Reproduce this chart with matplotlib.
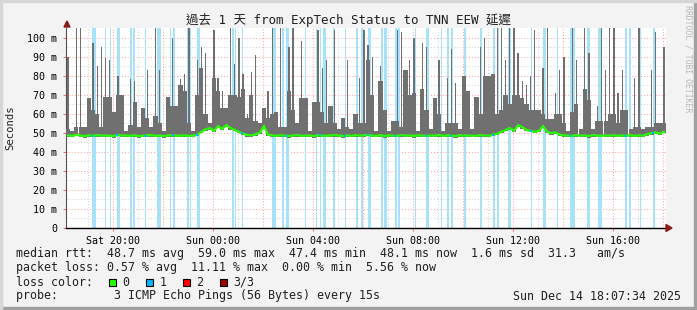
import matplotlib
matplotlib.use("Agg")
import matplotlib.pyplot as plt
from matplotlib.patches import Rectangle, Polygon
import numpy as np

W, H = 697, 310

# time axis in hours since Sat 00:00, graph covers the last 24h up to Sun 18:07:34
start_h = 18.126
bin_h = 1 / 6  # 10 minute bins

# smoke: wide block top and thin spike top per bin (ms), 0 = no spike
smoke_block = [52, 51, 53, 53, 53, 68, 62, 60, 53, 69, 69, 61, 70, 70, 51, 54,
               66, 53, 63, 58, 53, 59, 55, 51, 69, 64, 64, 75, 72, 55, 51, 70,
               84, 60, 55, 79, 72, 63, 63, 70, 70, 69, 73, 58, 70, 56, 55, 63,
               58, 60, 61, 53, 53, 72, 62, 55, 68, 68, 51, 66, 66, 61, 55, 64,
               55, 52, 58, 53, 52, 60, 55, 55, 88, 70, 51, 77, 62, 51, 56, 56,
               53, 83, 70, 71, 51, 73, 62, 52, 68, 60, 51, 55, 55, 55, 52, 80,
               72, 52, 69, 60, 80, 80, 81, 60, 62, 70, 65, 70, 70, 68, 65, 62,
               62, 62, 60, 57, 57, 60, 60, 55, 51, 61, 65, 52, 73, 67, 52, 56,
               56, 56, 60, 60, 55, 62, 62, 52, 53, 53, 52, 53, 53, 55, 55, 55]
smoke_spike = [90, 0, 110, 110, 0, 0, 97, 85, 95, 89, 88, 0, 80, 0, 0, 78,
               77, 0, 0, 83, 0, 110, 83, 0, 0, 100, 0, 78, 81, 110, 0, 88,
               95, 92, 0, 104, 79, 72, 0, 110, 86, 100, 81, 60, 82, 91, 0, 0,
               72, 110, 0, 110, 0, 95, 110, 0, 98, 0, 0, 0, 104, 84, 88, 0,
               104, 0, 0, 88, 0, 0, 79, 104, 96, 90, 0, 85, 0, 0, 0, 104,
               103, 0, 88, 100, 0, 97, 95, 0, 0, 88, 0, 79, 94, 76, 0, 0,
               0, 0, 0, 95, 100, 0, 0, 110, 110, 88, 110, 110, 92, 77, 75, 80,
               104, 0, 84, 110, 0, 71, 83, 90, 0, 110, 88, 0, 110, 92, 0, 64,
               110, 83, 110, 110, 71, 83, 0, 0, 79, 110, 0, 0, 83, 103, 0, 95]
median_ms = [48.6, 48.4, 48.9, 48.5, 48.3, 48.7, 48.4, 48.8, 48.5, 48.6, 48.4, 48.3,
             48.9, 48.5, 48.6, 48.4, 48.7, 48.2, 48.5, 48.6, 48.8, 48.4, 48.5, 48.3,
             48.6, 48.7, 48.4, 48.5, 48.6, 48.4, 48.5, 48.9, 50.5, 51.8, 52.5, 51.0,
             53.5, 52.0, 54.0, 52.5, 51.5, 50.5, 49.5, 48.8, 48.6, 49.2, 50.0, 53.5,
             49.0, 48.6, 48.4, 48.7, 48.5, 48.3, 48.6, 48.8, 48.4, 48.5, 48.6, 48.3,
             48.7, 48.5, 48.4, 48.6, 48.8, 48.5, 48.3, 48.6, 48.4, 48.7, 48.5, 48.6,
             48.9, 48.5, 48.4, 48.7, 48.3, 48.6, 48.5, 48.4, 48.8, 48.5, 48.6, 48.3,
             48.7, 48.5, 48.4, 48.6, 48.5, 48.8, 48.4, 48.6, 48.5, 48.3, 48.7, 48.5,
             48.6, 48.4, 48.5, 48.7, 48.6, 48.4, 49.0, 49.5, 50.5, 51.5, 52.5, 51.0,
             54.0, 53.0, 51.5, 51.0, 50.5, 51.0, 53.5, 50.5, 49.8, 50.2, 49.0, 48.6,
             48.5, 48.4, 48.7, 48.5, 48.6, 48.3, 48.8, 48.5, 48.4, 48.6, 48.5, 48.7,
             48.4, 48.6, 48.5, 48.7, 48.4, 48.6, 48.5, 49.2, 49.8, 50.2, 49.5, 50.5]

# loss periods (1 of 3 pings lost): start hour, length in minutes
loss_start = [19.154, 19.674, 19.874, 20.178, 20.674, 20.806, 21.274, 21.754,
              22.286, 22.418, 22.978, 23.086, 23.378, 24.754, 24.886, 25.154,
              26.378, 26.778, 26.914, 27.674, 28.114, 28.286, 28.418, 28.818,
              29.274, 29.714, 29.914, 30.206, 30.738, 30.846, 31.286, 31.418,
              32.074, 32.514, 33.114, 33.378, 33.514, 34.046, 34.686, 35.218,
              35.378, 35.806, 36.714, 37.218, 37.754, 38.286, 38.978, 39.406,
              40.486, 40.646, 41.086, 41.606]
loss_minutes = [9.6, 3, 3, 6, 5, 5, 3, 11, 3, 5, 3, 3, 6.5, 5.5, 3, 3,
                8, 4, 8, 3, 4, 3, 6, 3, 3, 5.5, 5, 8, 4, 6.5, 5.5, 4,
                3, 8, 4, 5, 6.5, 4, 5, 4, 5, 8, 4, 7, 4, 11, 6, 9,
                4, 4, 3, 5]

xtick_hours = [20, 24, 28, 32, 36, 40]
xtick_labels = ["Sat 20:00", "Sun 00:00", "Sun 04:00", "Sun 08:00", "Sun 12:00", "Sun 16:00"]
ytick_ms = [0, 10, 20, 30, 40, 50, 60, 70, 80, 90, 100]
ytick_labels = ["0"] + ["%d m" % v for v in ytick_ms[1:]]

legend_lines = [
    "median rtt:  48.7 ms avg  59.0 ms max  47.4 ms min  48.1 ms now  1.6 ms sd  31.3   am/s",
    "packet loss: 0.57 % avg  11.11 % max  0.00 % min  5.56 % now",
    "loss color:",
    "probe:        3 ICMP Echo Pings (56 Bytes) every 15s",
]
loss_names = ["0", "1", "2", "3/3"]
loss_colors = ["#26ff00", "#00b8ff", "#ff0000", "#a10000"]
stamp = "Sun Dec 14 18:07:34 2025"
title = "過去 1 天 from ExpTech Status to TNN EEW 延遲"

MONO = ["DejaVu Sans Mono", "Noto Sans CJK TC"]


def px(x, y):
    return x / W, 1 - y / H


fig = plt.figure(figsize=(W / 100, H / 100), dpi=100, facecolor="#f3f3f3")

# frame shadow like rrdtool
fig.patches.append(Rectangle((0, 0), 1, 3 / H, transform=fig.transFigure, color="#a0a0a0", zorder=0))
fig.patches.append(Rectangle((1 - 3 / W, 0), 3 / W, 1, transform=fig.transFigure, color="#a0a0a0", zorder=0))
fig.patches.append(Rectangle((0, 1 - 2 / H), 1, 2 / H, transform=fig.transFigure, color="#d6d6d6", zorder=0))
fig.patches.append(Rectangle((0, 0), 2 / W, 1, transform=fig.transFigure, color="#d6d6d6", zorder=0))

ax = fig.add_axes([66 / W, 82 / H, 600 / W, 200 / H])
ax.set_facecolor("white")
x0, x1 = start_h, start_h + 24
ax.set_xlim(x0, x1)
ax.set_ylim(0, 105)

# grid
dot = (0, (1, 2))
for h in np.arange(19, 43, 1):
    col = "#ff9a9a" if h % 2 == 0 else "#cfcfcf"
    ax.axvline(h, color=col, lw=0.7, ls=dot, zorder=1)
for v in np.arange(5, 105, 5):
    col = "#ff9a9a" if v % 10 == 0 else "#cfcfcf"
    ax.axhline(v, color=col, lw=0.7, ls=dot, zorder=1)

# loss background
for s, m in zip(loss_start, loss_minutes):
    ax.axvspan(s, s + m / 60, color="#a8e2f8", lw=0, zorder=2)

n = len(smoke_block)
t = start_h + np.arange(n) * bin_h
med = np.array(median_ms)
block = np.array(smoke_block, dtype=float)
spike = np.array(smoke_spike, dtype=float)
ax.bar(t, block - med + 0.8, width=bin_h, bottom=med - 0.8, align="edge",
       color="#707070", lw=0, zorder=3)
has = spike > 0
ax.bar(t[has] + bin_h / 2, spike[has] - med[has] + 0.8, width=0.055, bottom=med[has] - 0.8,
       align="center", color="#707070", lw=0, zorder=3)

tc = t + bin_h / 2
ax.plot(tc, med, color="#26ff00", lw=1.6, zorder=4, solid_joinstyle="miter")
ls = np.array(loss_start)
ax.scatter(ls[::3], np.interp(ls[::3], tc, med), s=2, marker="s", color="#00b8ff", lw=0, zorder=5)

# axes
for sp in ["top", "right"]:
    ax.spines[sp].set_visible(False)
ax.spines["bottom"].set_color("black")
ax.spines["bottom"].set_linewidth(1.0)
ax.spines["left"].set_color("#505050")
ax.spines["left"].set_linewidth(0.8)

ax.set_xticks(xtick_hours)
ax.set_xticklabels(xtick_labels, fontsize=7.2, family=MONO)
ax.set_yticks(ytick_ms)
ax.set_yticklabels(ytick_labels, fontsize=7.2, family=MONO)
ax.tick_params(axis="x", length=2.5, width=0.7, color="#ff6060", pad=3)
ax.tick_params(axis="y", length=2.5, width=0.7, color="#ff6060", pad=4)

# arrows
fig.patches.append(Polygon([px(666, 224.5), px(666, 231.5), px(672, 228)], closed=True,
                           transform=fig.transFigure, color="#8b1a1a", zorder=10))
fig.patches.append(Polygon([px(64, 27), px(70, 27), px(67, 21)], closed=True,
                           transform=fig.transFigure, color="#8b1a1a", zorder=10))

fig.text(*px(348, 20), title, ha="center", va="center", fontsize=9, family=MONO, color="#202020")
fig.text(*px(10, 128), "Seconds", ha="center", va="center", rotation=90, fontsize=7.6,
         family=MONO, color="#202020")
fig.text(*px(688, 5), "RRDTOOL / TOBI OETIKER", ha="center", va="top", rotation=270,
         fontsize=5.9, family=MONO, color="#b8b8b8")

ys = [254, 268, 282, 296]
for line, y in zip(legend_lines, ys):
    fig.text(*px(16, y), line, ha="left", va="center", fontsize=8.4, family=MONO, color="#202020")
box_x = [108.5, 145.5, 182.5, 219.5]
for bx, name, col in zip(box_x, loss_names, loss_colors):
    fig.patches.append(Rectangle(px(bx, 286), 7.5 / W, 7.5 / H, transform=fig.transFigure,
                                 facecolor=col, edgecolor="black", lw=0.8, zorder=10))
    fig.text(*px(bx + 14, 282), name, ha="left", va="center", fontsize=8.4, family=MONO, color="#202020")
fig.text(*px(681, 296), stamp, ha="right", va="center", fontsize=8.4, family=MONO, color="#202020")

fig.savefig("out.png", dpi=100, facecolor=fig.get_facecolor())
